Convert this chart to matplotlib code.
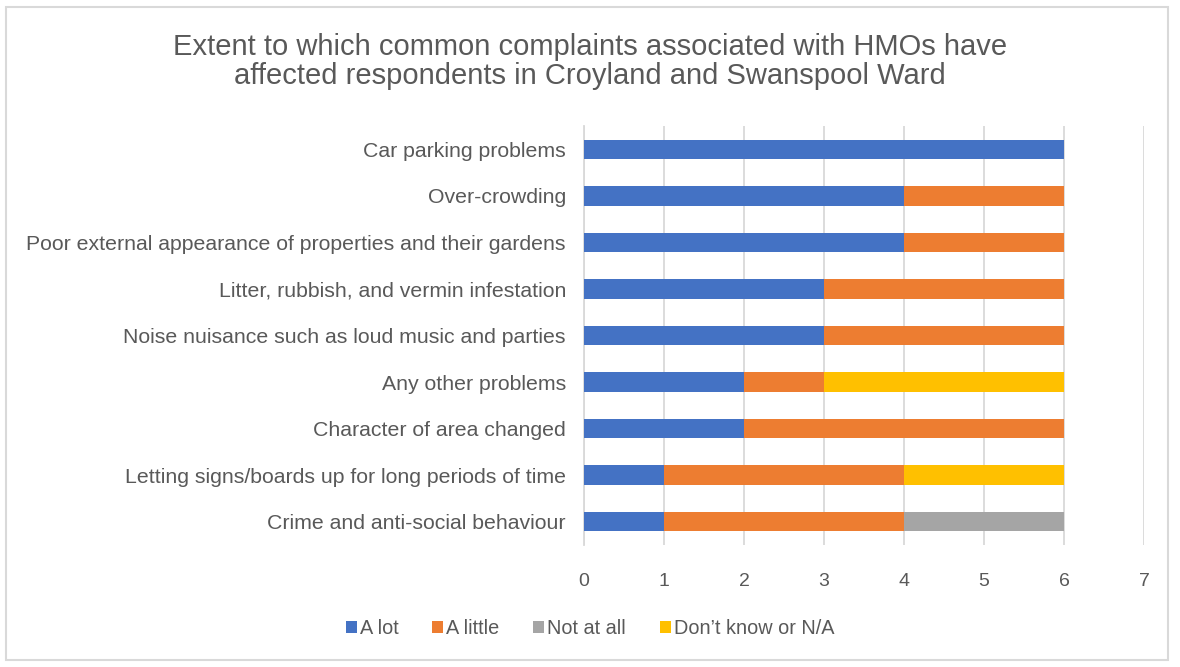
import matplotlib.pyplot as plt
import numpy as np

plt.rcParams['font.family'] = ['Liberation Sans', 'DejaVu Sans']

categories = [
    "Car parking problems",
    "Over-crowding",
    "Poor external appearance of properties and their gardens",
    "Litter, rubbish, and vermin infestation",
    "Noise nuisance such as loud music and parties",
    "Any other problems",
    "Character of area changed",
    "Letting signs/boards up for long periods of time",
    "Crime and anti-social behaviour",
]
a_lot = [6, 4, 4, 3, 3, 2, 2, 1, 1]
a_little = [0, 2, 2, 3, 3, 1, 4, 3, 3]
not_at_all = [0, 0, 0, 0, 0, 0, 0, 0, 2]
dont_know = [0, 0, 0, 0, 0, 3, 0, 2, 0]

series = [
    ("A lot", a_lot, "#4472C4"),
    ("A little", a_little, "#ED7D31"),
    ("Not at all", not_at_all, "#A5A5A5"),
    ("Don\u2019t know or N/A", dont_know, "#FFC000"),
]

text_col = "#595959"

fig = plt.figure(figsize=(11.8, 6.67), dpi=100)
ax = fig.add_axes([0.4949, 0.183, 0.4746, 0.628])

y = np.arange(len(categories))
left = np.zeros(len(categories))
for name, vals, col in series:
    ax.barh(y, vals, left=left, height=0.42, color=col, label=name, zorder=3)
    left += np.array(vals)

ax.set_ylim(len(categories) - 0.5, -0.5)
ax.set_xlim(0, 7)
ax.set_xticks(range(8))
ax.set_yticks(y)
ax.set_yticklabels(categories)
ax.tick_params(axis='both', length=0, colors=text_col)
ax.tick_params(axis='y', labelsize=15.3, pad=13)
ax.tick_params(axis='x', labelsize=14, pad=20)
ax.grid(axis='x', color="#D9D9D9", linewidth=1.3, zorder=0)
for s in ['top', 'right', 'bottom']:
    ax.spines[s].set_visible(False)
ax.spines['left'].set_color("#D9D9D9")
ax.spines['left'].set_linewidth(1.3)

fig.text(0.5, 0.908, "Extent to which common complaints associated with HMOs have\naffected respondents in Croyland and Swanspool Ward",
         ha='center', va='center', fontsize=21, color=text_col, linespacing=1.06)

fig.legend(loc='center', bbox_to_anchor=(0.5, 0.058), ncol=4, frameon=False,
           fontsize=14.3, labelcolor=text_col, handlelength=0.55, handleheight=0.55,
           handletextpad=0.15, columnspacing=1.7)

border = plt.Rectangle((0.005, 0.01), 0.985, 0.98, transform=fig.transFigure,
                       fill=False, edgecolor="#D9D9D9", linewidth=1.5)
fig.patches.append(border)

fig.savefig("out.png", dpi=100)
